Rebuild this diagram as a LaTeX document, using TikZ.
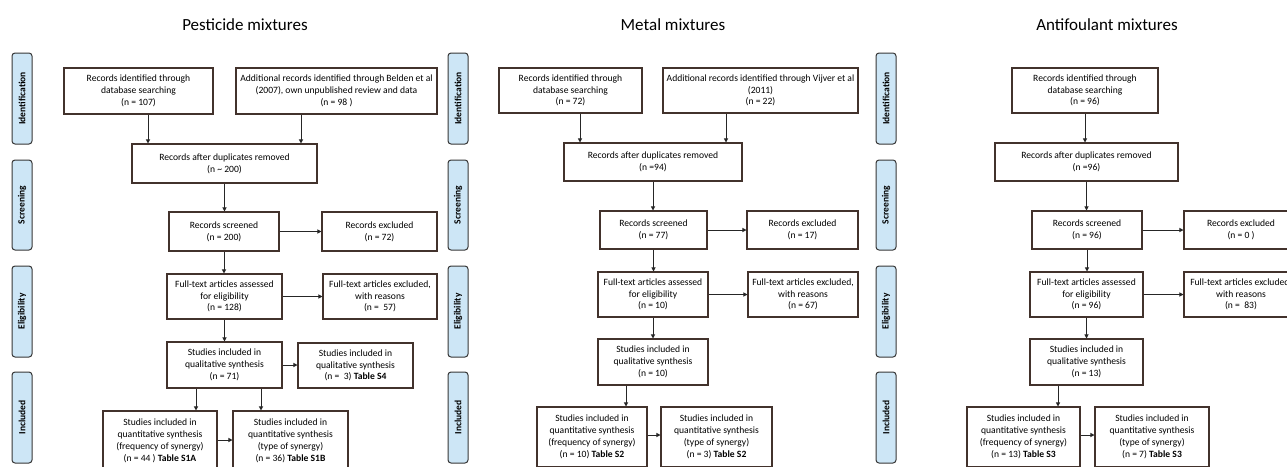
\documentclass[tikz,border=0pt]{standalone}
\usepackage{fontspec}
\setmainfont{Carlito}
\usetikzlibrary{arrows.meta,calc}
\definecolor{boxline}{RGB}{66,50,44}
\definecolor{sidefill}{RGB}{205,230,246}
\definecolor{sideline}{RGB}{55,55,55}
\tikzset{
 box/.style={draw=boxline, line width=1.05pt, fill=white, align=center, font=\fontsize{9.6}{11.8}\selectfont, inner sep=0pt},
 side/.style={draw=sideline, fill=sidefill, line width=1pt, rounded corners=3pt, inner sep=0pt},
 arr/.style={line width=1pt, draw=black!85, -{Triangle[length=4pt,width=4pt]}},
 ttl/.style={font=\fontsize{17}{20}\selectfont}
}
\newcommand\mybox[6]{\node[box, minimum width={(#4-#2)*1pt}, minimum height={(#5-#3)*1pt}] (#1) at ({(#2+#4)/2},{(#3+#5)/2}) {#6};}
\newcommand\myside[5]{\node[side, minimum width=20pt, minimum height={(#4-#3)*1pt}] (#1) at ({#2},{(#3+#4)/2}) {\rotatebox{90}{\fontsize{9.5}{10}\selectfont\bfseries #5}};}
\begin{document}
\begin{tikzpicture}[x=1pt,y=-1pt]
\useasboundingbox (0,0) rectangle (1287,466);
\clip (0,0) rectangle (1287,466);
\fill[white] (0,0) rectangle (1287,466);
% ---------- titles
\node[ttl] (t1) at (245,25) {Pesticide mixtures};
\node[ttl] (t2) at (673,25) {Metal mixtures};
\node[ttl] (t3) at (1107,25) {Antifoulant mixtures};
% ---------- side labels
\foreach \p/\x in {a/22,b/458,c/886}{
 \myside{id\p}{\x}{53}{144}{Identification}
 \myside{sc\p}{\x}{160}{250}{Screening}
 \myside{el\p}{\x}{266}{357}{Eligibility}
 \myside{in\p}{\x}{372}{463}{Included}
}
% ---------- panel 1
\mybox{aA}{64}{68}{213}{114}{Records identified through\\database searching\\(n = 107)}
\mybox{aB}{236}{68}{437}{114}{Additional records identified through Belden et al\\(2007), own unpublished review and data\\(n = 98 )}
\mybox{aC}{132}{144}{317}{183}{Records after duplicates removed\\(n \textasciitilde{} 200)}
\mybox{aD}{169}{212}{279}{251}{Records screened\\(n = 200)}
\mybox{aE}{322}{212}{437}{251}{Records excluded\\(n = 72)}
\mybox{aF}{167}{274}{282}{319}{Full-text articles assessed\\for eligibility\\(n = 128)}
\mybox{aG}{323}{274}{437}{319}{Full-text articles excluded,\\with reasons\\(n =\ \ 57)}
\mybox{aH}{167}{342}{282}{388}{Studies included in\\qualitative synthesis\\(n = 71)}
\mybox{aI}{298}{343}{413}{388}{Studies included in\\qualitative synthesis\\(n =\ \ 3) \textbf{Table S4}}
\mybox{aJ}{103}{411}{217}{471}{Studies included in\\quantitative synthesis\\(frequency of synergy)\\(n = 44 ) \textbf{Table S1A}}
\mybox{aK}{233}{411}{348}{471}{Studies included in\\quantitative synthesis\\(type of synergy)\\(n = 36) \textbf{Table S1B}}
\draw[arr] ([xshift=9.5pt]aA.south) -- ([xshift=9.5pt]aA.south |- aC.north);
\draw[arr] ([xshift=-35.5pt]aB.south) -- ([xshift=-35.5pt]aB.south |- aC.north);
\draw[arr] (aC.south) -- (aC.south |- aD.north);
\draw[arr] (aD.east) -- (aE.west);
\draw[arr] (aD.south) -- (aD.south |- aF.north);
\draw[arr] (aF.east) -- (aF.east -| aG.west);
\draw[arr] (aF.south) -- (aF.south |- aH.north);
\draw[arr] (aH.east) -- (aH.east -| aI.west);
\draw[arr] ([xshift=-28.5pt]aH.south) -- ([xshift=-28.5pt]aH.south |- aJ.north);
\draw[arr] ([xshift=36.5pt]aH.south) -- ([xshift=36.5pt]aH.south |- aK.north);
\draw[arr] ([yshift=1pt]aJ.east) -- ([yshift=1pt]aJ.east -| aK.west);
% ---------- panel 2
\mybox{bA}{499}{68}{642}{113}{Records identified through\\database searching\\(n = 72)}
\mybox{bB}{663}{68}{858}{113}{Additional records identified through Vijver et al\\(2011)\\(n = 22)}
\mybox{bC}{564}{143}{742}{181}{Records after duplicates removed\\(n =94)}
\mybox{bD}{600}{211}{707}{249}{Records screened\\(n = 77)}
\mybox{bE}{747}{211}{858}{249}{Records excluded\\(n = 17)}
\mybox{bF}{598}{272}{708}{317}{Full-text articles assessed\\for eligibility\\(n = 10)}
\mybox{bG}{748}{272}{858}{317}{Full-text articles excluded,\\with reasons\\(n = 67)}
\mybox{bH}{598}{339}{708}{385}{Studies included in\\qualitative synthesis\\(n = 10)}
\mybox{bJ}{537}{407}{647}{467}{Studies included in\\quantitative synthesis\\(frequency of synergy)\\(n = 10) \textbf{Table S2}}
\mybox{bK}{661}{407}{772}{467}{Studies included in\\quantitative synthesis\\(type of synergy)\\(n = 3) \textbf{Table S2}}
\draw[arr] ([xshift=9.5pt]bA.south) -- ([xshift=9.5pt]bA.south |- bC.north);
\draw[arr] ([xshift=-34.5pt]bB.south) -- ([xshift=-34.5pt]bB.south |- bC.north);
\draw[arr] (bC.south) -- (bC.south |- bD.north);
\draw[arr] (bD.east) -- (bE.west);
\draw[arr] (bD.south) -- (bD.south |- bF.north);
\draw[arr] (bF.east) -- (bF.east -| bG.west);
\draw[arr] (bF.south) -- (bF.south |- bH.north);
\draw[arr] ([xshift=-27pt]bH.south) -- ([xshift=-27pt]bH.south |- bJ.north);
\draw[arr] ([yshift=2pt]bJ.east) -- ([yshift=2pt]bJ.east -| bK.west);
% ---------- panel 3
\mybox{cA}{1012}{68}{1158}{113}{Records identified through\\database searching\\(n = 96)}
\mybox{cC}{995}{143}{1178}{181}{Records after duplicates removed\\(n =96)}
\mybox{cD}{1032}{211}{1142}{249}{Records screened\\(n = 96)}
\mybox{cE}{1184}{211}{1298}{249}{Records excluded\\(n = 0 )}
\mybox{cF}{1030}{272}{1143}{317}{Full-text articles assessed\\for eligibility\\(n = 96)}
\mybox{cG}{1184}{272}{1298}{317}{Full-text articles excluded,\\with reasons\\(n =\ \ 83)}
\mybox{cH}{1030}{339}{1143}{385}{Studies included in\\qualitative synthesis\\(n = 13)}
\mybox{cJ}{967}{407}{1080}{467}{Studies included in\\quantitative synthesis\\(frequency of synergy)\\(n = 13) \textbf{Table S3}}
\mybox{cK}{1095}{407}{1209}{467}{Studies included in\\quantitative synthesis\\(type of synergy)\\(n = 7) \textbf{Table S3}}
\draw[arr] (cA.south) -- (cA.south |- cC.north);
\draw[arr] (cC.south) -- (cC.south |- cD.north);
\draw[arr] (cD.east) -- (cE.west);
\draw[arr] (cD.south) -- (cD.south |- cF.north);
\draw[arr] (cF.east) -- (cF.east -| cG.west);
\draw[arr] (cF.south) -- (cF.south |- cH.north);
\draw[arr] ([xshift=-28.5pt]cH.south) -- ([xshift=-28.5pt]cH.south |- cJ.north);
\draw[arr] ([yshift=2pt]cJ.east) -- ([yshift=2pt]cJ.east -| cK.west);
\end{tikzpicture}
\end{document}
